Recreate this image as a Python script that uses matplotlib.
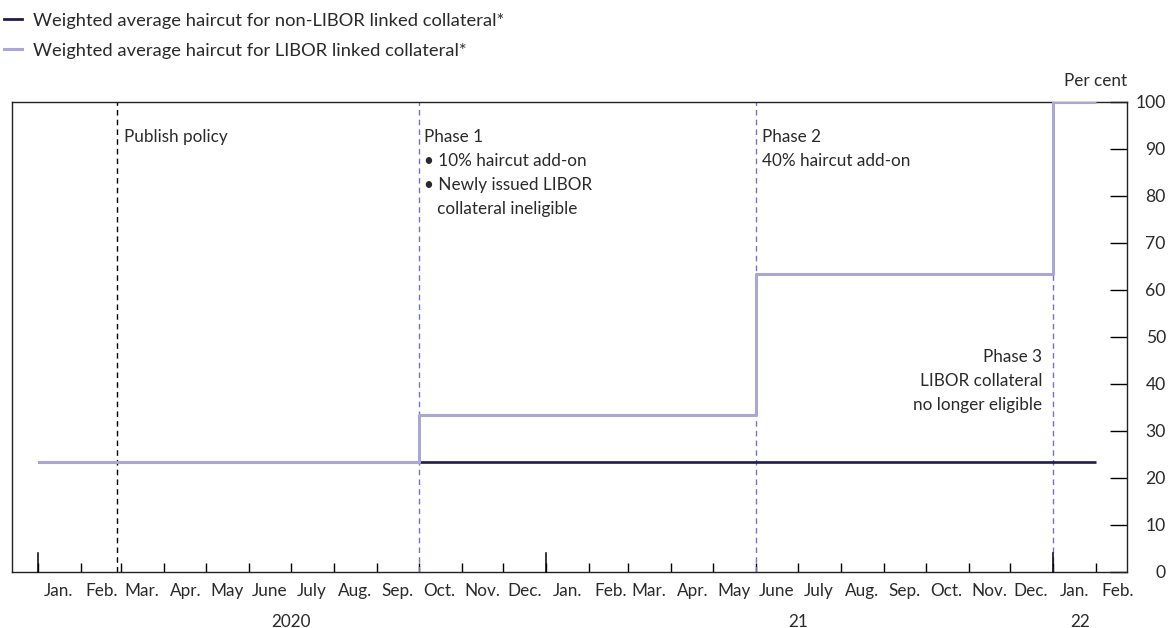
import matplotlib
matplotlib.use("Agg")
import matplotlib.pyplot as plt
import matplotlib.dates as mdates
from matplotlib.lines import Line2D
from datetime import datetime

plt.rcParams['font.family'] = ['Lato', 'DejaVu Sans']
plt.rcParams['text.color'] = '#2a2a2a'

# data
libor_dates = ["2020-01-01", "2020-10-01", "2021-06-01", "2022-01-01", "2022-02-01"]
libor_vals = [23.3, 33.3, 63.3, 100, 100]
nonlibor_dates = ["2020-01-01", "2022-02-01"]
nonlibor_vals = [23.3, 23.3]

publish_date = "2020-02-27"
phase_dates = ["2020-10-01", "2021-06-01", "2022-01-01"]

month_names = ["Jan.", "Feb.", "Mar.", "Apr.", "May", "June", "July", "Aug.",
               "Sep.", "Oct.", "Nov.", "Dec."]
year_labels = ["2020", "21", "22"]
year_label_dates = ["2020-07-01", "2021-07-01", "2022-01-20"]

dark = "#1f1a4f"
light = "#aaa7d8"
dash_blue = "#7472c6"

def d(s):
    return mdates.date2num(datetime.strptime(s, "%Y-%m-%d"))

fig = plt.figure(figsize=(11.7, 6.28), dpi=100)
ax = fig.add_axes([0.0103, 0.0892, 0.9529, 0.7484])

ax.plot([d(s) for s in nonlibor_dates], nonlibor_vals, color=dark, lw=1.9,
        solid_capstyle="butt", zorder=3)
ax.plot([d(s) for s in libor_dates], libor_vals, color=light, lw=2.2,
        drawstyle="steps-post", solid_capstyle="butt", zorder=4)

ax.axvline(d(publish_date), color="black", lw=1.0, ls=(0, (4, 3)), zorder=2)
for p in phase_dates:
    ax.axvline(d(p), color=dash_blue, lw=1.0, ls=(0, (4, 3)), zorder=2)

fs = 12.3
ls = 1.6
ax.text(d(publish_date) + 5, 92.6, "Publish policy", fontsize=fs, va="center")
ax.text(d(phase_dates[0]) + 4, 94.2,
        "Phase 1\n\u2022 10% haircut add-on\n\u2022 Newly issued LIBOR\n   collateral ineligible",
        fontsize=fs, va="top", linespacing=ls)
ax.text(d(phase_dates[1]) + 4, 94.2, "Phase 2\n40% haircut add-on",
        fontsize=fs, va="top", linespacing=ls)
ax.text(d(phase_dates[2]) - 8, 47.35, "Phase 3\nLIBOR collateral\nno longer eligible",
        fontsize=fs, va="top", ha="right", linespacing=ls)

# axes limits
ax.set_xlim(d("2020-01-01") - 18.7, d("2022-01-01") + 53)
ax.set_ylim(0, 100)

# y axis on right
ax.yaxis.tick_right()
ax.set_yticks(range(0, 101, 10))
ax.tick_params(axis="y", direction="in", length=12, width=1, pad=28, labelsize=12.6,
               labelcolor="#2a2a2a")
for lab in ax.get_yticklabels():
    lab.set_horizontalalignment("right")

# x axis: month boundaries as ticks, labels in between
month_starts = []
for y in (2020, 2021, 2022):
    for m in range(1, 13):
        if y == 2022 and m > 2:
            break
        month_starts.append(datetime(y, m, 1))
ax.set_xticks([mdates.date2num(t) for t in month_starts])
ax.set_xticklabels([])
ax.tick_params(axis="x", which="major", direction="in", length=6.5, width=1)
mids = [mdates.date2num(t) + 15 for t in month_starts]
ax.set_xticks(mids, minor=True)
ax.set_xticklabels([month_names[t.month - 1] for t in month_starts], minor=True)
ax.tick_params(axis="x", which="minor", length=0, pad=8, labelsize=fs,
               labelcolor="#2a2a2a")
# tall year ticks
for y in (2020, 2021, 2022):
    ax.plot([mdates.date2num(datetime(y, 1, 1))] * 2, [0, 4.0], color="black",
            lw=1.1, zorder=5, clip_on=False)
for lab, ds in zip(year_labels, year_label_dates):
    ax.text(d(ds), -10.6, lab, fontsize=fs, ha="center", va="center")

for s in ax.spines.values():
    s.set_linewidth(1.0)
    s.set_color("#222222")

ax.text(1.0, 1.045, "Per cent", transform=ax.transAxes, ha="right",
        va="center", fontsize=fs)

handles = [Line2D([], [], color=dark, lw=2.0), Line2D([], [], color=light, lw=2.2)]
fig.legend(handles, ["Weighted average haircut for non-LIBOR linked collateral*",
                     "Weighted average haircut for LIBOR linked collateral*"],
           loc="upper left", bbox_to_anchor=(-0.0103, 1.006), frameon=False,
           fontsize=13.2, handlelength=0.95, handletextpad=0.6, labelspacing=0.76)

fig.savefig("out.png", dpi=100)
